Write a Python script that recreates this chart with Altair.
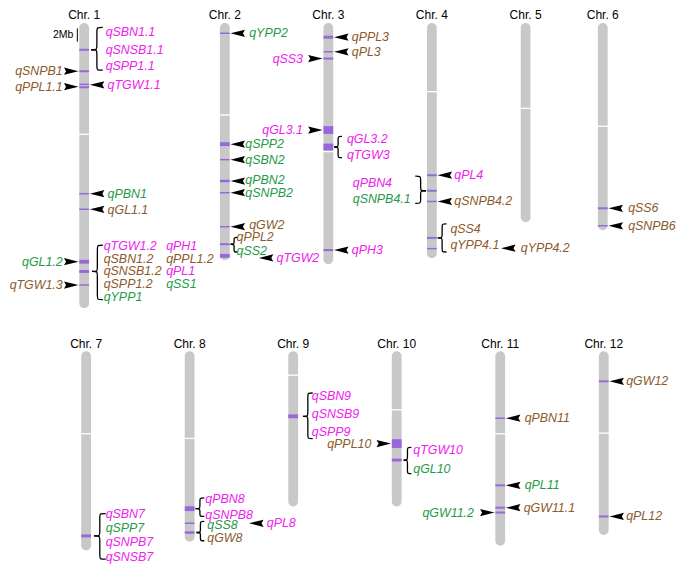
import altair as alt
import pandas as pd

# ---------------- data (Mb) ----------------
CHR_NAMES = [f"Chr. {i}" for i in range(1, 13)]
CHR_LEN = [42.8, 35.6, 36.2, 35.3, 29.9, 31.1, 29.9, 28.6, 23.3, 23.3, 29.2, 27.6]
CHR_CEN = [16.7, 13.8, 19.3, 10.3, 12.8, 15.5, 12.4, 13.1, 3.6, 8.8, 12.4, 12.3]

# QTL intervals (chromosome, start Mb, end Mb)
BAND_CHR = [1, 1, 1, 1, 1, 1, 1, 1, 1,
            2, 2, 2, 2, 2, 2, 2, 2,
            3, 3, 3, 3, 3, 3,
            4, 4, 4, 4, 4,
            6, 6,
            7,
            8, 8, 8,
            9,
            10, 10,
            11, 11, 11, 11,
            12, 12]
BAND_START = [3.86, 7.08, 9.09, 9.49, 25.51, 27.85, 35.55, 37.08, 39.23,
              1.42, 17.89, 20.40, 23.54, 25.36, 30.47, 33.06, 34.67,
              1.90, 4.20, 5.18, 15.48, 18.10, 33.94,
              22.70, 25.03, 26.68, 32.11, 33.76,
              27.66, 30.33,
              27.52,
              23.29, 25.73, 27.05,
              9.49,
              13.21, 16.13,
              9.96, 20.00, 23.35, 24.08,
              4.38, 24.67]
BAND_END = [4.16, 7.38, 9.31, 9.79, 25.73, 28.07, 36.13, 37.52, 39.45,
            1.64, 18.47, 20.62, 23.90, 25.58, 30.69, 33.36, 35.25,
            2.34, 4.42, 5.48, 16.64, 19.12, 34.24,
            23.00, 25.33, 26.90, 32.41, 33.98,
            27.96, 30.55,
            27.96,
            24.01, 25.95, 27.41,
            10.07,
            14.53, 16.57,
            10.18, 20.30, 23.65, 24.38,
            4.68, 24.97]

# QTL names, trait group (m = magenta, b = brown, g = green), chromosome, Mb
LABEL_TEXT = ["qSBN1.1", "qSNSB1.1", "qSPP1.1", "qSNPB1", "qPPL1.1", "qTGW1.1", "qPBN1", "qGL1.1",
              "qTGW1.2", "qSBN1.2", "qSNSB1.2", "qSPP1.2", "qYPP1", "qPH1", "qPPL1.2", "qPL1", "qSS1",
              "qGL1.2", "qTGW1.3",
              "qYPP2", "qSPP2", "qSBN2", "qPBN2", "qSNPB2", "qGW2", "qPPL2", "qSS2", "qTGW2",
              "qPPL3", "qPL3", "qSS3", "qGL3.1", "qGL3.2", "qTGW3", "qPH3",
              "qPL4", "qPBN4", "qSNPB4.1", "qSNPB4.2", "qSS4", "qYPP4.1", "qYPP4.2",
              "qSS6", "qSNPB6",
              "qSBN7", "qSPP7", "qSNPB7", "qSNSB7",
              "qPBN8", "qSNPB8", "qSS8", "qGW8", "qPL8",
              "qSBN9", "qSNSB9", "qSPP9",
              "qPPL10", "qTGW10", "qGL10",
              "qPBN11", "qPL11", "qGW11.1", "qGW11.2",
              "qGW12", "qPL12"]
LABEL_TRAIT = ["m", "m", "m", "b", "b", "m", "g", "b",
               "m", "b", "b", "b", "g", "m", "b", "m", "g",
               "g", "b",
               "g", "g", "g", "g", "g", "b", "b", "g", "m",
               "b", "b", "m", "m", "m", "m", "m",
               "m", "m", "g", "b", "b", "b", "b",
               "b", "b",
               "m", "g", "m", "m",
               "m", "m", "g", "b", "m",
               "m", "m", "m",
               "b", "m", "g",
               "b", "g", "b", "g",
               "b", "b"]
LABEL_CHR = [1] * 19 + [2] * 9 + [3] * 7 + [4] * 7 + [6] * 2 + [7] * 4 + [8] * 5 + [9] * 3 + [10] * 3 + [11] * 4 + [12] * 2
LABEL_MB = [1.39, 4.01, 6.50, 7.23, 9.56, 9.27, 25.62, 28.03,
            33.43, 35.40, 37.30, 39.20, 41.09, 33.43, 35.40, 37.30, 39.20,
            35.84, 39.34,
            1.53, 18.18, 20.51, 23.58, 25.47, 30.29, 32.19, 34.23, 35.26,
            2.12, 4.31, 5.33, 16.13, 17.45, 19.78, 34.09,
            22.85, 24.01, 26.35, 26.72, 30.88, 33.36, 33.80,
            27.81, 30.44,
            24.38, 26.57, 28.69, 30.95,
            22.26, 24.53, 26.13, 28.03, 25.84,
            6.72, 9.49, 12.12,
            13.87, 14.89, 17.66,
            10.07, 20.15, 23.50, 24.31,
            4.53, 24.82]

# arrows: chromosome, Mb
ARROW_CHR = [1, 1, 1, 1, 1, 1, 1, 2, 2, 2, 2, 2, 2, 2, 3, 3, 3, 3, 3, 4, 4, 4, 6, 6, 8, 10, 11, 11, 11, 11, 12, 12]
ARROW_MB = [7.23, 9.56, 9.27, 25.62, 27.96, 35.84, 39.34,
            1.53, 18.18, 20.51, 23.72, 25.47, 30.58, 35.26,
            2.12, 4.31, 5.33, 16.06, 34.09,
            22.85, 26.79, 33.80,
            27.81, 30.44, 25.84, 13.87,
            10.07, 20.15, 23.50, 24.23,
            4.53, 24.82]

# braces: chromosome, top, bottom, tip (Mb)
BRACE_CHR = [1, 1, 2, 3, 4, 4, 7, 8, 8, 9, 10]
BRACE_TOP = [0.66, 33.36, 32.19, 17.01, 22.99, 30.15, 24.38, 22.04, 25.55, 6.28, 14.45]
BRACE_BOT = [7.08, 41.53, 34.38, 20.22, 27.08, 34.38, 31.24, 24.82, 28.47, 13.14, 18.39]
BRACE_TIP = [4.01, 37.30, 33.21, 18.61, 25.18, 32.26, 27.74, 23.65, 27.23, 9.78, 16.35]

SCALEBAR_MB = 2

# ---------------- layout (reference px) ----------------
REF_W, REF_H = 685, 575
PX_PER_MB = 6.85
CHR_X = [78, 222, 328, 434, 530, 609, 80, 186, 292, 398, 504, 610]
ROW_TOP_PX = [15.5, 353]
LABEL_DX = [22, 22, 22, -22, -22, 24, 24, 24,
            20, 20, 20, 20, 20, 84, 84, 84, 84,
            -22, -22,
            25, 21, 21, 21, 21, 25, 12, 12, 53,
            24, 24, -26, -26, 19, 19, 24,
            23, -81, -81, 23, 19, 19, 91,
            26, 26,
            20, 20, 20, 20,
            16, 16, 18, 18, 79,
            19, 19, 19,
            -26, 17, 17,
            25, 25, 24, -27,
            23, 23]
LEFT_ALIGNED_ON_LEFT = ["qPBN4", "qSNPB4.1"]
ARROW_TIP_DX = [-6, -6, 6, 6, 6, -6, -6, 6, 6, 6, 6, 6, 6, 35, 6, 6, -6, -6, 6, 6, 6, 71, 6, 6, 61, -6, 6, 6, 6, -6, 6, 6]
BRACE_DX = [7, 8, 6, 6, -6, 6, 8, 6, 7, 10, 7]
BRACE_W = [12, 11, 7, 8, 11, 9, 12, 9, 8, 10, 8]

MAGENTA, BROWN, GREEN = "#ee22ee", "#8c5a2b", "#1f9a48"
PURPLE, GREY = "#9966dd", "#c8c8c8"
FONT = "Liberation Sans"
LABEL_SIZE = 12.4

# ---------------- derived tables ----------------
row_off = [(t - ROW_TOP_PX[0]) / PX_PER_MB for t in ROW_TOP_PX]
Y0 = (0 - ROW_TOP_PX[0]) / PX_PER_MB
Y1 = (REF_H - ROW_TOP_PX[0]) / PX_PER_MB


def off(c):
    return row_off[0 if c <= 6 else 1]


def cx(c):
    return CHR_X[c - 1]


chrom = pd.DataFrame({
    "name": CHR_NAMES,
    "x": [x - 5 for x in CHR_X], "x2": [x + 5 for x in CHR_X],
    "y": [off(i + 1) for i in range(12)],
    "y2": [CHR_LEN[i] + off(i + 1) for i in range(12)],
    "cx": CHR_X,
    "cen": [CHR_CEN[i] + off(i + 1) for i in range(12)],
    "cx1": [x - 6 for x in CHR_X], "cx2": [x + 6 for x in CHR_X],
    "ty": [off(i + 1) - 3.7 / PX_PER_MB for i in range(12)],
})

bands = pd.DataFrame({
    "x": [cx(c) - 5 for c in BAND_CHR], "x2": [cx(c) + 5 for c in BAND_CHR],
    "y": [s + off(c) for s, c in zip(BAND_START, BAND_CHR)],
    "y2": [e + off(c) for e, c in zip(BAND_END, BAND_CHR)],
})

labels = pd.DataFrame({
    "text": LABEL_TEXT, "trait": LABEL_TRAIT,
    "x": [cx(c) + d for c, d in zip(LABEL_CHR, LABEL_DX)],
    "y": [m + off(c) for m, c in zip(LABEL_MB, LABEL_CHR)],
    "align": ["left" if (d > 0 or t in LEFT_ALIGNED_ON_LEFT) else "right"
              for d, t in zip(LABEL_DX, LABEL_TEXT)],
})

HALF = 7.25
arrows = pd.DataFrame({
    "x": [cx(c) + d + (HALF if d > 0 else -HALF) for c, d in zip(ARROW_CHR, ARROW_TIP_DX)],
    "y": [m + off(c) for m, c in zip(ARROW_MB, ARROW_CHR)],
    "dir": ["left" if d > 0 else "right" for d in ARROW_TIP_DX],
})

rows = []
r = 2.5 / PX_PER_MB
for k, (c, top, bot, tip, dx, w) in enumerate(zip(BRACE_CHR, BRACE_TOP, BRACE_BOT, BRACE_TIP, BRACE_DX, BRACE_W)):
    o = off(c)
    s = 1 if dx > 0 else -1
    xt = cx(c) + dx
    xm = xt + s * w / 2
    xr = xt + s * w
    upper = [(xr, top), (xm, top), (xm, top + r), (xm, tip - r), (xm, tip), (xt, tip)]
    lower = [(xt, tip), (xm, tip), (xm, tip + r), (xm, bot - r), (xm, bot), (xr, bot)]
    for h, pts in enumerate([upper, lower]):
        for i, (px, py) in enumerate(pts):
            rows.append({"id": f"{k}-{h}", "i": i, "x": px, "y": py + o})
braces = pd.DataFrame(rows)

scalebar = pd.DataFrame({"x": [cx(1) - 7], "y": [0.8], "y2": [0.8 + SCALEBAR_MB],
                         "tx": [cx(1) - 11], "ty": [0.8 + SCALEBAR_MB / 2], "text": [f"{SCALEBAR_MB}Mb"]})

# ---------------- chart ----------------
xs = alt.Scale(domain=[0, REF_W], nice=False, zero=False)
ys = alt.Scale(domain=[Y0, Y1], nice=False, zero=False, reverse=True)
X = lambda f: alt.X(f"{f}:Q", scale=xs, axis=None)
Y = lambda f: alt.Y(f"{f}:Q", scale=ys, axis=None)
color = alt.Color("trait:N", scale=alt.Scale(domain=["m", "b", "g"], range=[MAGENTA, BROWN, GREEN]), legend=None)

chrom_layer = alt.Chart(chrom).mark_rect(color=GREY, cornerRadius=5).encode(
    x=X("x"), x2="x2", y=Y("y"), y2="y2")
cen_layer = alt.Chart(chrom).mark_rule(color="white", strokeWidth=1.3).encode(
    x=X("cx1"), x2="cx2", y=Y("cen"))
band_layer = alt.Chart(bands).mark_rect(color=PURPLE).encode(
    x=X("x"), x2="x2", y=Y("y"), y2="y2")
brace_layer = alt.Chart(braces).mark_line(interpolate="basis", color="black", strokeWidth=1.3).encode(
    x=X("x"), y=Y("y"), detail="id:N", order="i:Q")
arrow_l = alt.Chart(arrows).transform_filter("datum.dir == 'left'").mark_point(
    shape="M-1,0L1,-0.5L0.72,0L1,0.5Z", size=210, filled=True, color="black", opacity=1, strokeWidth=0
).encode(x=X("x"), y=Y("y"))
arrow_r = alt.Chart(arrows).transform_filter("datum.dir == 'right'").mark_point(
    shape="M1,0L-1,-0.5L-0.72,0L-1,0.5Z", size=210, filled=True, color="black", opacity=1, strokeWidth=0
).encode(x=X("x"), y=Y("y"))
lab_l = alt.Chart(labels).transform_filter("datum.align == 'left'").mark_text(
    align="left", baseline="middle", font=FONT, fontSize=LABEL_SIZE, fontStyle="italic"
).encode(x=X("x"), y=Y("y"), text="text:N", color=color)
lab_r = alt.Chart(labels).transform_filter("datum.align == 'right'").mark_text(
    align="right", baseline="middle", font=FONT, fontSize=LABEL_SIZE, fontStyle="italic"
).encode(x=X("x"), y=Y("y"), text="text:N", color=color)
titles = alt.Chart(chrom).mark_text(
    align="center", baseline="alphabetic", font=FONT, fontSize=12, color="black"
).encode(x=X("cx"), y=Y("ty"), text="name:N")
sb_rule = alt.Chart(scalebar).mark_rule(color="black", strokeWidth=1).encode(
    x=X("x"), y=Y("y"), y2="y2")
sb_text = alt.Chart(scalebar).mark_text(
    align="right", baseline="middle", font=FONT, fontSize=10.5, color="black"
).encode(x=X("tx"), y=Y("ty"), text="text:N")

chart = alt.layer(
    chrom_layer, cen_layer, band_layer, brace_layer, arrow_l, arrow_r,
    lab_l, lab_r, titles, sb_rule, sb_text
).properties(
    width=669, height=559, padding=0,
    autosize=alt.AutoSizeParams(type="none"),
    background="white",
).configure_view(stroke=None)

chart.save("out.html", embed_options={"renderer": "svg", "actions": False})
